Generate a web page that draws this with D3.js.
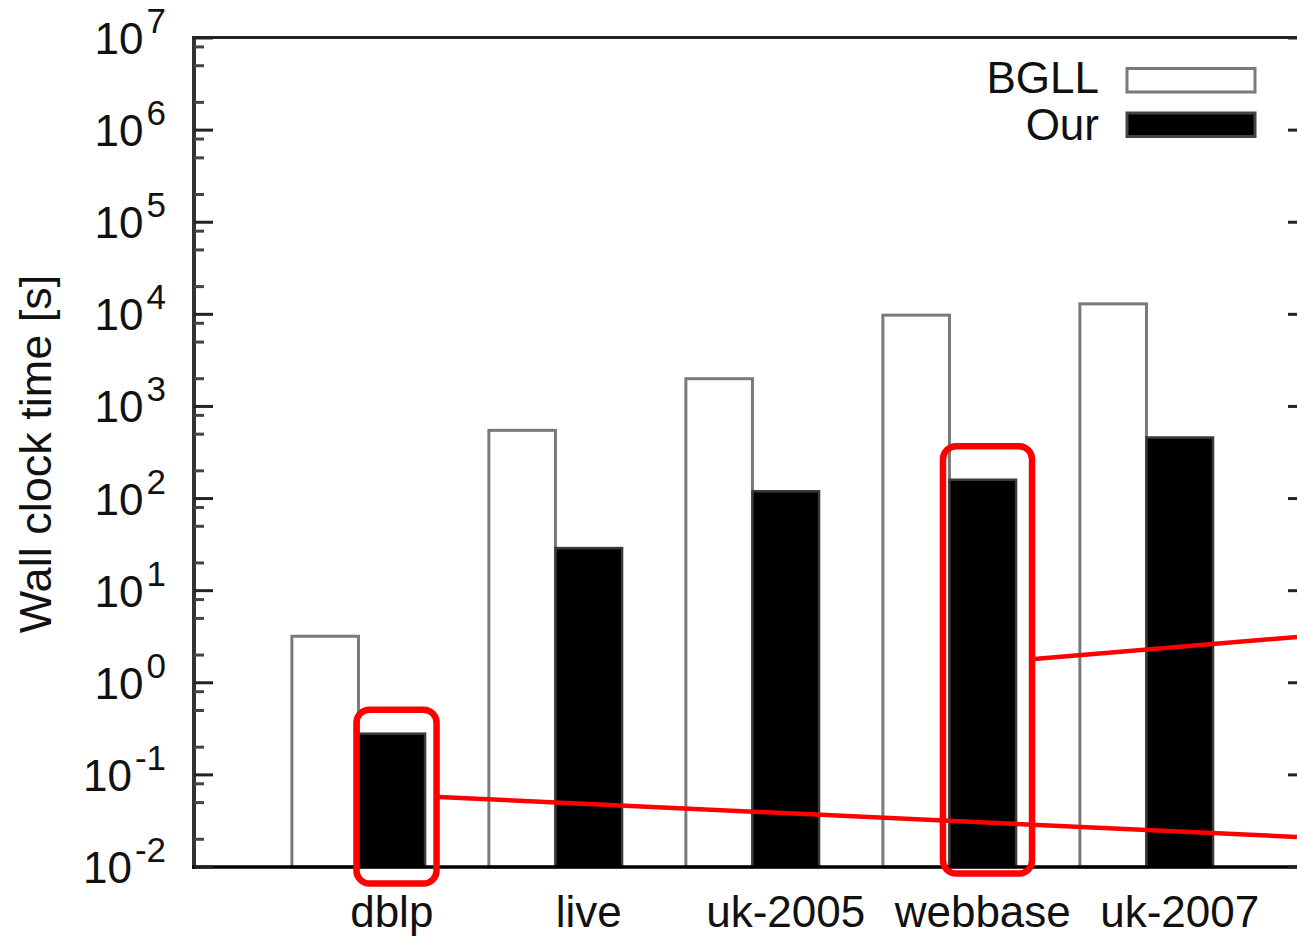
<!DOCTYPE html>
<html>
<head>
<meta charset="utf-8">
<script src="https://cdn.jsdelivr.net/npm/d3@7"></script>
<style>
  html, body { margin: 0; padding: 0; background: #fff; }
  svg { display: block; font-family: "Liberation Sans", Arial, sans-serif; }
</style>
</head>
<body>
<svg id="chart" width="1297" height="936"></svg>
<script>
// Wall clock time per graph, BGLL vs. our method (log scale, seconds)
const categories = ["dblp", "live", "uk-2005", "webbase", "uk-2007"];
const seriesNames = ["BGLL", "Our"];
const bgllTimes = [3.2, 550, 2000, 9800, 13000];
const ourTimes = [0.28, 29, 120, 160, 460];
const yTickExponents = [-2, -1, 0, 1, 2, 3, 4, 5, 6, 7];
const minorMultipliers = [2, 5, 8];
const highlighted = ["dblp", "webbase"];

const svg = d3.select("#chart");

const plot = { left: 194, right: 1307, top: 38, bottom: 867 };

const y = d3.scaleLog().domain([1e-2, 1e7]).range([plot.bottom, plot.top]);
// group index -> x; integer positions are the seam between the two bars of a group
const x = d3.scaleLinear().domain([-0.84, 4.815]).range([193, plot.right]);
const barW = x(0.338) - x(0);

const fontSize = 44;

// bars
const bars = svg.append("g");
categories.forEach((c, i) => {
  const seam = x(i);
  // BGLL: white with grey outline
  bars.append("rect")
    .attr("x", seam - barW).attr("width", barW)
    .attr("y", y(bgllTimes[i])).attr("height", plot.bottom - y(bgllTimes[i]))
    .attr("fill", "#fff").attr("stroke", "#7a7a7a").attr("stroke-width", 3);
  // Our: solid black
  bars.append("rect")
    .attr("x", seam).attr("width", barW)
    .attr("y", y(ourTimes[i])).attr("height", plot.bottom - y(ourTimes[i]))
    .attr("fill", "#000").attr("stroke", "#3a3a3a").attr("stroke-width", 2.5);
});

// frame: left axis, bottom axis, top border, right border
const frame = svg.append("g").attr("stroke-linecap", "square");
frame.append("line").attr("x1", plot.left).attr("x2", plot.left)
  .attr("y1", plot.top).attr("y2", plot.bottom)
  .attr("stroke", "#333").attr("stroke-width", 4);
frame.append("line").attr("x1", plot.left).attr("x2", plot.right)
  .attr("y1", plot.bottom).attr("y2", plot.bottom)
  .attr("stroke", "#000").attr("stroke-width", 3.5);
frame.append("line").attr("x1", plot.left).attr("x2", plot.right)
  .attr("y1", plot.top - 0.5).attr("y2", plot.top - 0.5)
  .attr("stroke", "#222").attr("stroke-width", 3);
frame.append("line").attr("x1", plot.right).attr("x2", plot.right)
  .attr("y1", plot.top).attr("y2", plot.bottom)
  .attr("stroke", "#222").attr("stroke-width", 3);

// ticks on left and right axes
const majorVals = yTickExponents.map(e => Math.pow(10, e));
const minorVals = [];
yTickExponents.slice(0, -1).forEach(e => minorMultipliers.forEach(m => minorVals.push(m * Math.pow(10, e))));

const ticks = svg.append("g").attr("stroke", "#222").attr("stroke-width", 3);
majorVals.forEach(v => {
  ticks.append("line").attr("x1", plot.left).attr("x2", plot.left + 19)
    .attr("y1", y(v)).attr("y2", y(v));
  ticks.append("line").attr("x1", plot.right - 19).attr("x2", plot.right)
    .attr("y1", y(v)).attr("y2", y(v));
});
minorVals.forEach(v => {
  ticks.append("line").attr("x1", plot.left).attr("x2", plot.left + 10)
    .attr("y1", y(v)).attr("y2", y(v)).attr("stroke", "#444");
  ticks.append("line").attr("x1", plot.right - 10).attr("x2", plot.right)
    .attr("y1", y(v)).attr("y2", y(v)).attr("stroke", "#444");
});

// y tick labels: 10 with superscript exponent
const yLabels = svg.append("g").attr("fill", "#111");
yTickExponents.forEach(e => {
  const t = yLabels.append("text")
    .attr("x", 166).attr("y", y(Math.pow(10, e)) + 16)
    .attr("text-anchor", "end").attr("font-size", fontSize);
  t.append("tspan").text("10");
  t.append("tspan").attr("font-size", 35).attr("dy", -21).attr("dx", 3).text(String(e));
});

// category labels, centred under the "Our" bar
svg.append("g").attr("fill", "#111")
  .selectAll("text").data(categories).join("text")
  .attr("x", (d, i) => x(i) + barW / 2)
  .attr("y", 927)
  .attr("text-anchor", "middle")
  .attr("font-size", fontSize)
  .text(d => d);

// y axis title
svg.append("text")
  .attr("transform", "translate(51,454) rotate(-90)")
  .attr("text-anchor", "middle")
  .attr("font-size", 45)
  .attr("fill", "#111")
  .text("Wall clock time [s]");

// legend
const legend = svg.append("g");
const legendRows = [
  { name: seriesNames[0], fill: "#fff", stroke: "#7a7a7a", y: 80, base: 93 },
  { name: seriesNames[1], fill: "#000", stroke: "#444", y: 124.5, base: 139.5 }
];
legendRows.forEach(r => {
  legend.append("text")
    .attr("x", 1099).attr("y", r.base)
    .attr("text-anchor", "end").attr("font-size", fontSize).attr("fill", "#111")
    .text(r.name);
  legend.append("rect")
    .attr("x", 1127).attr("y", r.y - 11.5).attr("width", 128).attr("height", 23.5)
    .attr("fill", r.fill).attr("stroke", r.stroke).attr("stroke-width", 3);
});

// red highlight boxes around the "Our" bars of selected graphs, with leader lines
const boxPad = {
  dblp:    { left: 2,   right: 11.5, top: 24,   bottom: 16.5 },
  webbase: { left: 6.5, right: 16,   top: 33.5, bottom: 6.5 }
};
const red = svg.append("g").attr("fill", "none").attr("stroke", "#f00");
const boxes = highlighted.map(name => {
  const i = categories.indexOf(name);
  const p = boxPad[name];
  const x0 = x(i) - p.left, x1 = x(i) + barW + p.right;
  const y0 = y(ourTimes[i]) - p.top, y1 = plot.bottom + p.bottom;
  red.append("rect")
    .attr("x", x0).attr("y", y0).attr("width", x1 - x0).attr("height", y1 - y0)
    .attr("rx", 13).attr("ry", 13).attr("stroke-width", 6.5);
  return { x0, x1, y0, y1 };
});
// leader lines run off to the right edge
red.append("line")
  .attr("x1", boxes[0].x1 + 2).attr("y1", 797)
  .attr("x2", 1297).attr("y2", 837).attr("stroke-width", 4.5);
red.append("line")
  .attr("x1", boxes[1].x1 + 2).attr("y1", 659)
  .attr("x2", 1297).attr("y2", 637).attr("stroke-width", 4.5);
</script>
</body>
</html>
